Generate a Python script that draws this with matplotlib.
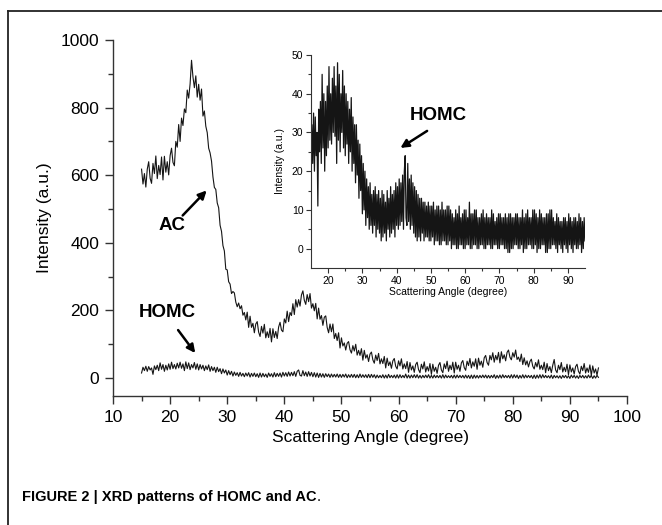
import numpy as np
import matplotlib
matplotlib.use("Agg")
import matplotlib.pyplot as plt
from matplotlib.lines import Line2D

plt.rcParams['font.family'] = ['Liberation Sans', 'DejaVu Sans']

# Scattering angle grid (degrees): 15.00 .. 95.00 in 0.25 steps
angle_start, angle_step = 15.0, 0.25

# AC intensity (a.u.) (4 samples per degree)
ac_intensity = [
    618, 574, 605, 565,   # 15
    618, 640, 591, 576,   # 16
    635, 605, 657, 590,   # 17
    629, 602, 654, 586,   # 18
    656, 609, 640, 601,   # 19
    658, 680, 638, 628,   # 20
    700, 683, 750, 700,   # 21
    769, 747, 796, 785,   # 22
    852, 828, 870, 940,   # 23
    891, 859, 894, 831,   # 24
    869, 822, 855, 775,   # 25
    790, 745, 726, 680,   # 26
    666, 642, 595, 564,   # 27
    558, 518, 504, 452,   # 28
    434, 392, 376, 322,   # 29
    320, 285, 278, 250,   # 30
    256, 252, 225, 211,   # 31
    222, 205, 214, 186,   # 32
    194, 172, 195, 150,   # 33
    183, 150, 162, 134,   # 34
    160, 167, 136, 123,   # 35
    153, 133, 159, 119,   # 36
    137, 120, 147, 107,   # 37
    146, 120, 138, 117,   # 38
    151, 165, 142, 137,   # 39
    175, 163, 198, 167,   # 40
    194, 185, 220, 188,   # 41
    232, 210, 232, 213,   # 42
    246, 258, 230, 218,   # 43
    247, 226, 250, 207,   # 44
    220, 199, 221, 175,   # 45
    207, 174, 185, 156,   # 46
    180, 184, 150, 134,   # 47
    160, 137, 160, 117,   # 48
    132, 111, 134, 89,    # 49
    119, 95, 104, 83,     # 50
    103, 108, 84, 74,     # 51
    96, 80, 100, 68,      # 52
    82, 67, 87, 53,       # 53
    82, 59, 69, 49,       # 54
    71, 77, 54, 44,       # 55
    68, 52, 73, 42,       # 56
    57, 43, 64, 30,       # 57
    59, 37, 48, 29,       # 58
    51, 58, 35, 27,       # 59
    51, 36, 57, 27,       # 60
    42, 28, 49, 17,       # 61
    46, 24, 36, 17,       # 62
    40, 47, 25, 16,       # 63
    41, 27, 48, 18,       # 64
    34, 21, 43, 11,       # 65
    41, 20, 32, 14,       # 66
    38, 46, 24, 16,       # 67
    42, 28, 50, 20,       # 68
    38, 25, 47, 15,       # 69
    47, 26, 38, 20,       # 70
    45, 52, 31, 23,       # 71
    50, 37, 58, 30,       # 72
    48, 35, 57, 26,       # 73
    59, 38, 50, 32,       # 74
    60, 67, 46, 38,       # 75
    67, 54, 75, 47,       # 76
    67, 54, 76, 45,       # 77
    78, 57, 69, 51,       # 78
    76, 83, 62, 54,       # 79
    75, 62, 83, 55,       # 80
    62, 49, 71, 40,       # 81
    60, 39, 51, 33,       # 82
    49, 56, 35, 27,       # 83
    46, 33, 54, 26,       # 84
    38, 25, 47, 16,       # 85
    43, 22, 34, 16,       # 86
    38, 55, 24, 16,       # 87
    38, 25, 46, 18,       # 88
    32, 19, 41, 10,       # 89
    39, 18, 30, 12,       # 90
    34, 41, 20, 12,       # 91
    35, 22, 43, 15,       # 92
    30, 17, 39, 8,        # 93
    36, 15, 27, 9,        # 94
    30,                   # 95
]

# HOMC intensity (a.u.) (4 samples per degree)
homc_intensity = [
    15, 32, 22, 35,   # 15
    20, 34, 24, 30,   # 16
    11, 36, 25, 38,   # 17
    22, 45, 26, 40,   # 18
    20, 38, 24, 42,   # 19
    26, 47, 28, 40,   # 20
    27, 44, 30, 47,   # 21
    29, 42, 22, 48,   # 22
    28, 45, 25, 40,   # 23
    30, 46, 26, 42,   # 24
    24, 40, 27, 38,   # 25
    22, 36, 25, 39,   # 26
    20, 34, 22, 32,   # 27
    17, 32, 19, 28,   # 28
    13, 27, 15, 24,   # 29
    9, 22, 10, 20,    # 30
    6, 18, 8, 16,     # 31
    5, 17, 6, 14,     # 32
    4, 15, 6, 16,     # 33
    3, 14, 5, 15,     # 34
    4, 13, 2, 15,     # 35
    3, 14, 4, 12,     # 36
    2, 15, 5, 13,     # 37
    3, 16, 4, 14,     # 38
    5, 15, 3, 17,     # 39
    6, 16, 5, 18,     # 40
    6, 17, 7, 19,     # 41
    5, 20, 24, 8,     # 42
    6, 22, 7, 18,     # 43
    5, 19, 6, 17,     # 44
    4, 16, 3, 15,     # 45
    2, 14, 3, 13,     # 46
    2, 13, 4, 12,     # 47
    2, 12, 3, 11,     # 48
    3, 12, 2, 11,     # 49
    2, 11, 3, 12,     # 50
    1, 10, 2, 11,     # 51
    2, 11, 1, 10,     # 52
    1, 12, 2, 10,     # 53
    2, 10, 1, 11,     # 54
    1, 11, 2, 10,     # 55
    0, 9, 1, 8,       # 56
    1, 10, 0, 9,      # 57
    0, 11, 1, 8,      # 58
    1, 9, 0, 10,      # 59
    0, 10, 1, 8,      # 60
    1, 12, 0, 9,      # 61
    0, 9, 1, 10,      # 62
    1, 10, 0, 8,      # 63
    0, 8, 1, 9,       # 64
    1, 10, 0, 8,      # 65
    0, 9, 1, 8,       # 66
    1, 8, 0, 10,      # 67
    0, 9, 1, 7,       # 68
    1, 8, 0, 9,       # 69
    0, 9, 1, 8,       # 70
    1, 8, 0, 9,       # 71
    0, 8, -1, 9,      # 72
    -1, 9, 0, 8,      # 73
    0, 8, 1, 9,       # 74
    1, 9, 0, 8,       # 75
    0, 8, 1, 10,      # 76
    -1, 8, 0, 9,      # 77
    0, 10, 1, 8,      # 78
    1, 8, 0, 10,      # 79
    0, 10, 1, 9,      # 80
    -1, 8, 0, 10,     # 81
    0, 9, 1, 8,       # 82
    1, 8, -1, 9,      # 83
    -1, 9, 0, 10,     # 84
    0, 10, 1, 8,      # 85
    1, 7, 0, 9,       # 86
    -1, 8, 1, 7,      # 87
    0, 7, -1, 8,      # 88
    1, 8, 0, 7,       # 89
    -1, 9, 1, 8,      # 90
    0, 7, -1, 8,      # 91
    1, 8, 0, 7,       # 92
    0, 9, 1, 8,       # 93
    -1, 7, 0, 8,      # 94
    2,                # 95
]

main_xticks = [10, 20, 30, 40, 50, 60, 70, 80, 90, 100]
main_yticks = [0, 200, 400, 600, 800, 1000]
inset_xticks = [20, 30, 40, 50, 60, 70, 80, 90]
inset_yticks = [0, 10, 20, 30, 40, 50]

angle = angle_start + angle_step * np.arange(len(ac_intensity))

W, H = 662, 525
fig = plt.figure(figsize=(W / 100, H / 100), dpi=100)

spine_col = '#333333'
line_col = '#151515'

arrow_kw = dict(arrowstyle='-|>', color='black', lw=1.8,
                mutation_scale=12, shrinkA=0, shrinkB=0)

# ---------- main axes ----------
ax = fig.add_axes([113 / W, 1 - 396 / H, (627 - 113) / W, (396 - 40) / H])
ax.plot(angle, ac_intensity, color=line_col, lw=0.8)
ax.plot(angle, homc_intensity, color=line_col, lw=0.8)
ax.set_xlim(10, 100)
ax.set_ylim(-53, 1000)
ax.set_xticks(main_xticks)
ax.set_yticks(main_yticks)
ax.set_xticks(np.arange(15, 100, 10), minor=True)
ax.set_yticks(np.arange(100, 1000, 200), minor=True)
for s in ['top', 'right']:
    ax.spines[s].set_visible(False)
for s in ['left', 'bottom']:
    ax.spines[s].set_color(spine_col)
    ax.spines[s].set_linewidth(1.0)
ax.tick_params(which='major', direction='out', length=6, width=1.0,
               color=spine_col, labelsize=12.5, pad=4)
ax.tick_params(which='minor', direction='out', length=3.5, width=1.0,
               color=spine_col)
ax.set_xlabel('Scattering Angle (degree)', fontsize=12.5, labelpad=4)
ax.set_ylabel('Intensity (a.u.)', fontsize=12.5, labelpad=6)

ax.text(20.3, 452, 'AC', fontsize=13.5, fontweight='bold', ha='center', va='center')
ax.annotate('', xy=(26.4, 555), xytext=(22.2, 481), arrowprops=arrow_kw)
ax.text(19.5, 193, 'HOMC', fontsize=13.5, fontweight='bold', ha='center', va='center')
ax.annotate('', xy=(24.4, 74), xytext=(21.4, 142), arrowprops=arrow_kw)

# ---------- inset ----------
ins = fig.add_axes([311 / W, 1 - 268 / H, (585 - 311) / W, (268 - 55) / H])
ins.plot(angle, homc_intensity, color=line_col, lw=0.9)
ins.set_xlim(15, 95)
ins.set_ylim(-5, 50)
ins.set_xticks(inset_xticks)
ins.set_yticks(inset_yticks)
ins.set_xticks(np.arange(25, 95, 10), minor=True)
ins.set_yticks(np.arange(5, 50, 10), minor=True)
for s in ['top', 'right']:
    ins.spines[s].set_visible(False)
for s in ['left', 'bottom']:
    ins.spines[s].set_color(spine_col)
    ins.spines[s].set_linewidth(0.8)
ins.tick_params(which='major', direction='out', length=3.5, width=0.8,
                color=spine_col, labelsize=7.5, pad=2)
ins.tick_params(which='minor', direction='out', length=2, width=0.8,
                color=spine_col)
ins.set_xlabel('Scattering Angle (degree)', fontsize=7.5, labelpad=1)
ins.set_ylabel('Intensity (a.u.)', fontsize=7.5, labelpad=5)
ins.text(52.1, 34.5, 'HOMC', fontsize=13.5, fontweight='bold', ha='center', va='center')
ins.annotate('', xy=(41.1, 26.0), xytext=(48.9, 30.4), arrowprops=arrow_kw)

# ---------- frame and caption ----------
fig.add_artist(Line2D([8 / W, 8 / W], [0, 1 - 11 / H], transform=fig.transFigure,
                      color='#222222', lw=1.3))
fig.add_artist(Line2D([8 / W, 1], [1 - 11 / H, 1 - 11 / H], transform=fig.transFigure,
                      color='#222222', lw=1.3))
cap = fig.text(22 / W, 1 - 497 / H, 'FIGURE 2 | XRD patterns of HOMC and AC',
               fontsize=10.5, fontweight='bold', ha='left', va='center')
fig.canvas.draw()
bb = cap.get_window_extent()
fig.text(bb.x1 / W, 1 - 497 / H, '.', fontsize=10.5, ha='left', va='center')

fig.savefig('out.png', dpi=100)
